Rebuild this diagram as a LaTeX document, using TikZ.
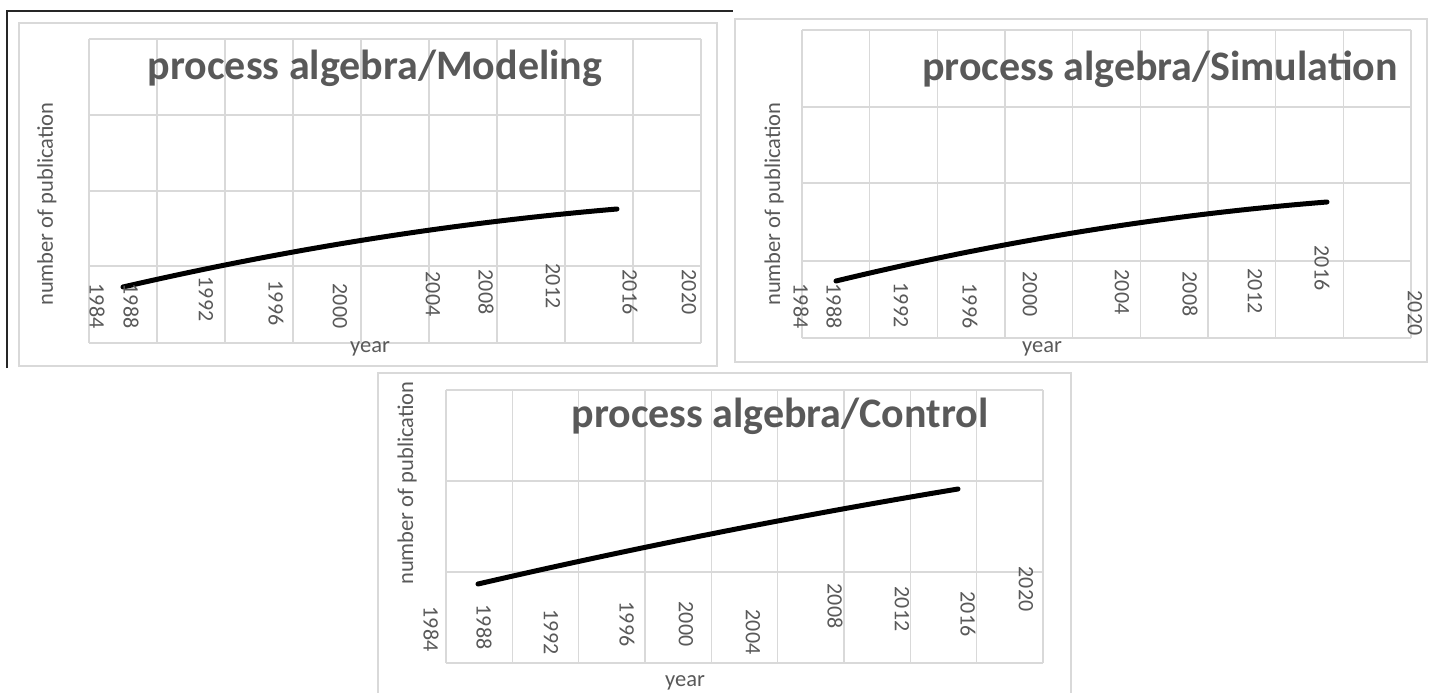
\documentclass[tikz,border=0pt]{standalone}
\usepackage{fontspec}
\setmainfont{Carlito}
\definecolor{txtgray}{HTML}{595959}
\definecolor{gridgray}{HTML}{D9D9D9}

\begin{document}
\begin{tikzpicture}[x=1pt,y=-1pt,
    panel/.style={draw=gridgray,line width=1.8pt},
    gridline/.style={draw=gridgray,line width=1.3pt},
    frame/.style={draw=black!85,line width=1.4pt},
    series/.style={draw=black,line width=5pt,line cap=round,line join=round},
    charttitle/.style={text=txtgray,font=\bfseries\fontsize{42}{48}\selectfont,anchor=base,inner sep=0pt},
    yearlabel/.style={text=txtgray,font=\fontsize{22}{26}\selectfont,rotate=-90,inner sep=0pt},
    axislabel/.style={text=txtgray,font=\fontsize{22.5}{26}\selectfont,inner sep=0pt}
]
\useasboundingbox[fill=white] (0,0) rectangle (1433,693);

% outer frame lines and chart borders
\draw[frame] (7,368) -- (7,11) -- (733,11);
\draw[panel] (19,23) rectangle (717,366);
\draw[panel] (735,19) rectangle (1427,362);
\draw[panel] (378,373) rectangle (1071,700);

% top left: modeling
\foreach \i in {0,...,9}
  \draw[gridline] (89+68*\i,39) -- (89+68*\i,343);
\foreach \gy in {39,115,191,266,343}
  \draw[gridline] (89,\gy) -- (701,\gy);
\draw[series] (123,287) .. controls (288,249) and (452,223) .. (617,209);
\node[charttitle] (titleM) at (375,80) {process algebra/Modeling};
\node[axislabel,rotate=90] (ylabM) at (47,204) {number of publication};
\node[axislabel,anchor=base] (xlabM) at (370,352) {year};
\foreach \yr/\px/\py in {1984/97/306,1988/131/306,1992/206/299,1996/276/303,
    2000/340/306,2004/433/294,2008/486/292,2012/553/286,2016/630/292,2020/689/292}
  \node[yearlabel] (m\yr) at (\px,\py) {\yr};

% top right: simulation
\foreach \i in {0,...,9}
  \draw[gridline] (802+67.67*\i,30) -- (802+67.67*\i,338);
\foreach \gy in {30,107,183,261,338}
  \draw[gridline] (802,\gy) -- (1411,\gy);
\draw[series] (836,281) .. controls (1000,241.5) and (1163,215) .. (1327,202);
\node[charttitle] (titleS) at (1160,81) {process algebra/Simulation};
\node[axislabel,rotate=90] (ylabS) at (774,204) {number of publication};
\node[axislabel,anchor=base] (xlabS) at (1042,352) {year};
\foreach \yr/\px/\py in {1984/801/306,1988/834/306,1992/901/305,1996/970/306,
    2000/1030/294,2004/1122/292,2008/1190/294,2012/1255/291,2016/1322/268,2020/1415/313}
  \node[yearlabel] (s\yr) at (\px,\py) {\yr};

% bottom: control
\foreach \i in {0,...,9}
  \draw[gridline] (446+66.33*\i,390) -- (446+66.33*\i,663);
\foreach \gy in {390,481,572,663}
  \draw[gridline] (446,\gy) -- (1043,\gy);
\draw[series] (478,584) .. controls (638,547) and (798,515.5) .. (958,489);
\node[charttitle] (titleC) at (780,427) {process algebra/Control};
\node[axislabel,rotate=90] (ylabC) at (407,483) {number of publication};
\node[axislabel,anchor=base] (xlabC) at (685,686) {year};
\foreach \yr/\px/\py in {1984/431/629,1988/484/627,1992/551/632,1996/627/624,
    2000/686/624,2004/753/632,2008/835/606,2012/902/609,2016/968/614,2020/1026/589}
  \node[yearlabel] (c\yr) at (\px,\py) {\yr};
\end{tikzpicture}
\end{document}
